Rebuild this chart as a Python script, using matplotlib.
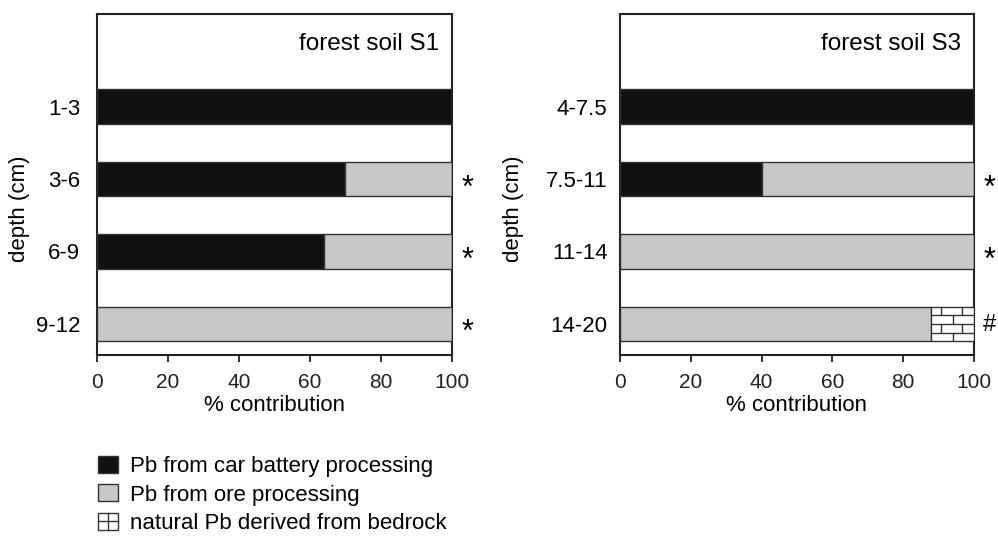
import numpy as np
import matplotlib
matplotlib.use('Agg')
import matplotlib.pyplot as plt
from matplotlib.patches import Rectangle, Patch
from matplotlib.lines import Line2D
from matplotlib.legend_handler import HandlerBase

plt.rcParams['font.family'] = ['Liberation Sans', 'DejaVu Sans']

# data (% contribution per depth layer)
s1_depths = ['1-3', '3-6', '6-9', '9-12']
s1_battery = [100, 70, 64, 0]
s1_ore = [0, 30, 36, 100]
s1_bedrock = [0, 0, 0, 0]
s1_marks = ['', '*', '*', '*']

s3_depths = ['4-7.5', '7.5-11', '11-14', '14-20']
s3_battery = [100, 40, 0, 0]
s3_ore = [0, 60, 100, 88]
s3_bedrock = [0, 0, 0, 12]
s3_marks = ['', '*', '*', '#']

legend_labels = ['Pb from car battery processing',
                 'Pb from ore processing',
                 'natural Pb derived from bedrock']

BLACK = '#111111'
GREY = '#c8c8c8'
EDGE = '#333333'
FS = 15
bar_h = 0.48


def draw_bricks(ax, left, width, yc, h, courses=4):
    y0 = yc - h / 2
    ys = [y0 + k * h / courses for k in range(1, courses)]
    ax.hlines(ys, left, left + width, color=EDGE, lw=1.0, zorder=4)
    for k in range(courses):
        ya, yb = y0 + k * h / courses, y0 + (k + 1) * h / courses
        if k % 2 == 0:
            xs = [left + width * 0.5]
        else:
            xs = [left + width * 0.22, left + width * 0.72]
        ax.vlines(xs, ya, yb, color=EDGE, lw=1.0, zorder=4)


def panel(ax, depths, battery, ore, bedrock, marks, title, ypad):
    y = np.arange(len(depths))[::-1]
    battery = np.array(battery)
    ore = np.array(ore)
    bedrock = np.array(bedrock)
    ax.barh(y, battery, height=bar_h, color=BLACK, edgecolor=EDGE, lw=1.0, zorder=3)
    ax.barh(y, ore, left=battery, height=bar_h, color=GREY, edgecolor=EDGE, lw=1.0, zorder=3)
    ax.barh(y, bedrock, left=battery + ore, height=bar_h, color='white', edgecolor=EDGE, lw=1.0, zorder=3)
    for yi, b, o, r in zip(y, battery, ore, bedrock):
        if r > 0:
            draw_bricks(ax, b + o, r, yi, bar_h)
    for yi, m in zip(y, marks):
        if m == '*':
            ax.annotate(m, (104.5, yi), xytext=(0, -12.5), textcoords='offset points',
                        ha='center', va='baseline', fontsize=22, annotation_clip=False)
        elif m:
            ax.annotate(m, (104.3, yi), xytext=(0, -1), textcoords='offset points',
                        ha='center', va='center', fontsize=17, annotation_clip=False)
    ax.set_xlim(0, 100)
    ax.set_ylim(-0.43, 4.28)
    ax.set_yticks(y)
    ax.set_yticklabels(depths)
    ax.set_xticks([0, 20, 40, 60, 80, 100])
    ax.tick_params(axis='y', length=0, pad=ypad, labelsize=16)
    ax.tick_params(axis='x', direction='out', length=5, width=1.3, pad=8, labelsize=FS, colors='#222222')
    for s in ax.spines.values():
        s.set_linewidth(1.5)
        s.set_color('#222222')
    ax.set_xlabel('% contribution', fontsize=16, labelpad=2)
    ax.set_ylabel('depth (cm)', fontsize=16)
    ax.text(0.965, 0.912, title, transform=ax.transAxes, ha='right', va='center', fontsize=17.5)


class HandlerBrick(HandlerBase):
    def create_artists(self, legend, orig_handle, xdescent, ydescent, width, height, fontsize, trans):
        x0, y0 = -xdescent, -ydescent
        rect = Rectangle((x0, y0), width, height, facecolor='white', edgecolor=EDGE, lw=1.0, transform=trans)
        hl = Line2D([x0, x0 + width], [y0 + height / 2] * 2, color=EDGE, lw=1.0, transform=trans)
        v1 = Line2D([x0 + width / 2] * 2, [y0 + height / 2, y0 + height], color=EDGE, lw=1.0, transform=trans)
        v2 = Line2D([x0 + width / 2] * 2, [y0, y0 + height / 2], color=EDGE, lw=1.0, transform=trans)
        return [rect, hl, v1, v2]


fig = plt.figure(figsize=(9.98, 5.5), dpi=100)
ax1 = fig.add_axes([0.0972, 0.3545, 0.3557, 0.62])
ax2 = fig.add_axes([0.6212, 0.3545, 0.3547, 0.62])

panel(ax1, s1_depths, s1_battery, s1_ore, s1_bedrock, s1_marks, 'forest soil S1', 12)
panel(ax2, s3_depths, s3_battery, s3_ore, s3_bedrock, s3_marks, 'forest soil S3', 9)
ax1.yaxis.set_label_coords(-0.19, 0.43)
ax2.yaxis.set_label_coords(-0.27, 0.43)

handles = [Patch(facecolor=BLACK, edgecolor=EDGE, lw=1.0),
           Patch(facecolor=GREY, edgecolor=EDGE, lw=1.0),
           Patch(facecolor='white', edgecolor=EDGE, lw=1.0)]
fig.legend(handles, legend_labels, loc='upper left', bbox_to_anchor=(98 / 998, 1 - 456 / 550),
           frameon=False, fontsize=16, handlelength=0.9, handleheight=0.8,
           handletextpad=0.55, labelspacing=0.32, borderpad=0, borderaxespad=0,
           handler_map={handles[2]: HandlerBrick()})

fig.savefig('out.png', dpi=100)
